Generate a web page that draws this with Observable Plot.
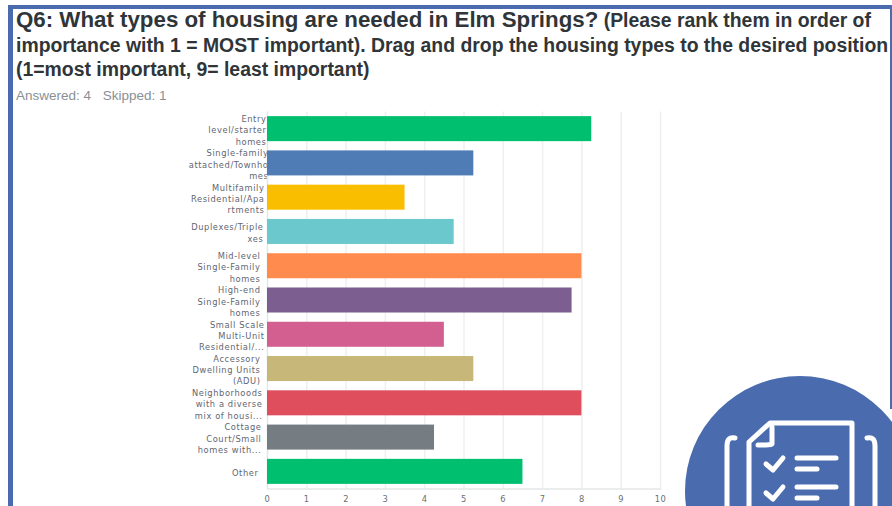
<!DOCTYPE html>
<html><head><meta charset="utf-8">
<script src="https://cdn.jsdelivr.net/npm/d3@7"></script>
<script src="https://cdn.jsdelivr.net/npm/@observablehq/plot@0.6"></script>
<style>
html,body{margin:0;padding:0;background:#fff;overflow:hidden}
#page{position:relative;width:892px;height:506px;overflow:hidden;font-family:"Liberation Sans",Arial,sans-serif}
#frame{position:absolute;left:8px;top:5px;width:884px;height:510px;border:solid #4a6cae;border-width:4px 0 0 5px;box-sizing:border-box}
#edge{position:absolute;left:890px;top:5px;width:2px;height:404px;background:#4a6cae}
#title{position:absolute;left:16px;top:8px;width:876px;color:#2f3538;font-weight:bold;font-size:19.4px;line-height:24.5px;white-space:nowrap}
#title .big{font-size:22.3px}
#sub{position:absolute;left:16px;top:88px;color:#8a8f94;font-size:13.5px}
#sub span{margin-right:8px}
#chart{position:absolute;left:0;top:0}
#chart svg, #chart svg text, #chart svg g{font-family:"DejaVu Sans",sans-serif !important}
#chart svg text{letter-spacing:.6px}
#icon{position:absolute;left:0;top:0}
</style></head><body>
<div id="page">
<div id="frame"></div>
<div id="edge"></div>
<div id="chart"></div>
<div id="title"><span class="big">Q6: What types of housing are needed in Elm Springs?</span> (Please rank them in order of<br>importance with 1 = MOST important). Drag and drop the housing types to the desired position<br>(1=most important, 9= least important)</div>
<div id="sub"><span>Answered: 4</span> <span>Skipped: 1</span></div>
<svg id="icon" width="892" height="506" fill="none" stroke="#fff" stroke-linecap="round" stroke-linejoin="round">
<circle cx="800" cy="491" r="115" fill="#4a6cae" stroke="none"/>
<g stroke-width="5">
<path d="M735 438 Q727 436 727 446 V506"/>
<path d="M867 438 Q875 436 875 446 V506"/>
<path d="M749 506 V442 L770 423 H852 V506"/>
<path d="M772 427 V444 Q772 445 758 445"/>
<path d="M766 464 L773 470 L783 458"/>
<path d="M766 493 L773 499 L783 487"/>
<path d="M797 458 H836"/><path d="M797 469 H817"/>
<path d="M797 487 H836"/><path d="M797 498 H817"/>
</g></svg>
</div>
<script>
const categories = [
  ["Entry","level/starter","homes"],
  ["Single-family","attached/Townho","mes"],
  ["Multifamily","Residential/Apa","rtments"],
  ["Duplexes/Triple","xes"],
  ["Mid-level","Single-Family","homes"],
  ["High-end","Single-Family","homes"],
  ["Small Scale","Multi-Unit","Residential/..."],
  ["Accessory","Dwelling Units","(ADU)"],
  ["Neighborhoods","with a diverse","mix of housi..."],
  ["Cottage","Court/Small","homes with..."],
  ["Other"]
];
const labels = categories.map(c => c.join("\n"));
const values = [8.25, 5.25, 3.5, 4.75, 8, 7.75, 4.5, 5.25, 8, 4.25, 6.5];
const colors = ["#00bf6f","#507cb6","#f9be00","#6bc8cd","#ff8b4f","#7d5e90","#d25f90","#c7b879","#de4e5d","#757d82","#00bf6f"];
const labelGaps = [1, -1, 3, 4, 7, 7, 3, 7, 5, 6, 9];
const xTicks = [0,1,2,3,4,5,6,7,8,9,10];
const rows = labels.map((label,i)=>({label,value:values[i],color:colors[i],gap:labelGaps[i]}));

const plot = Plot.plot({
  width: 892, height: 506,
  marginLeft: 267, marginRight: 232, marginTop: 111.5, marginBottom: 17.5,
  style: {background:"transparent"},
  x: {domain:[0,10], label:null},
  y: {domain:labels, paddingInner:0.27, paddingOuter:0.135, round:false, label:null, axis:null},
  marks: [
    Plot.gridX(xTicks.slice(1),{stroke:"#eef0f0",strokeOpacity:1,strokeWidth:1.5}),
    ...rows.map(r => Plot.text([r],{x:0,y:"label",text:"label",textAnchor:"end",dx:-r.gap,dy:0.5,lineHeight:1.36,fontSize:8.3,fill:"#5f6672"})),
    Plot.ruleX([0],{stroke:"#e4e6e6",strokeWidth:1.5}),
    Plot.frame({anchor:"bottom",stroke:"#e4e6e6",strokeWidth:1.5}),
    Plot.barX(rows,{x:"value",y:"label",fill:d=>d.color}),
    Plot.axisX({ticks:xTicks,tickSize:0,tickPadding:7,fontSize:8.3,fill:"#6b7075",label:null})
  ]
});
document.getElementById("chart").appendChild(plot);
</script></body></html>
